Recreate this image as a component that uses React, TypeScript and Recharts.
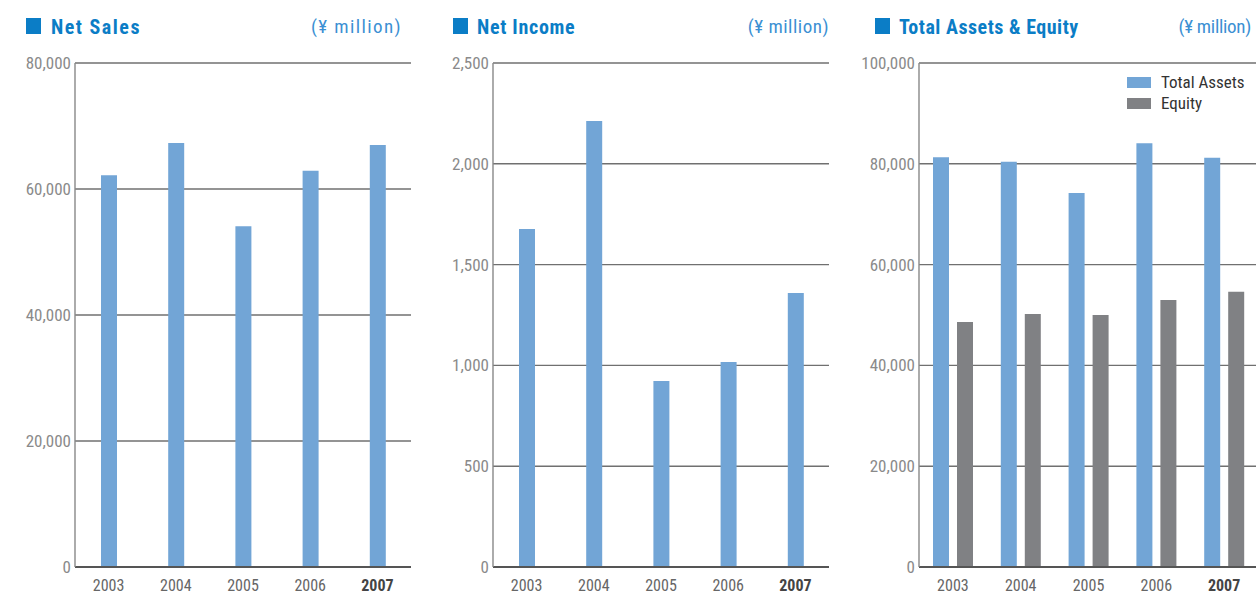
import React from "react";
import {
  BarChart,
  Bar,
  XAxis,
  YAxis,
  CartesianGrid,
} from "recharts";

const years = ["2003", "2004", "2005", "2006", "2007"];
const netSales = [62200, 67300, 54100, 62900, 67000];
const netIncome = [1677, 2212, 923, 1017, 1359];
const totalAssets = [81300, 80400, 74200, 84100, 81200];
const equity = [48600, 50200, 50000, 53000, 54600];

const salesTicks = [0, 20000, 40000, 60000, 80000];
const incomeTicks = [0, 500, 1000, 1500, 2000, 2500];
const assetTicks = [0, 20000, 40000, 60000, 80000, 100000];

const salesData = years.map((year, i) => ({ year, sales: netSales[i] }));
const incomeData = years.map((year, i) => ({ year, income: netIncome[i] }));
const assetData = years.map((year, i) => ({
  year,
  assets: totalAssets[i],
  equity: equity[i],
}));

const BLUE = "#72a5d6";
const GRAY = "#808184";
const TITLE_BLUE = "#0b7dc6";
const UNIT_BLUE = "#3b90d3";
const FONT = "'Roboto Condensed', 'Liberation Sans Narrow', Roboto, sans-serif";

const fmt = (v: number) => v.toLocaleString("en-US");

function YearTick(props: any) {
  const { x, y, payload } = props;
  const last = payload.value === "2007";
  return (
    <text
      x={x}
      y={y + 16}
      textAnchor="middle"
      fontFamily={FONT}
      fontSize={16}
      fontWeight={last ? 700 : 400}
      fill={last ? "#444" : "#666"}
    >
      {payload.value}
    </text>
  );
}

function Header({ title, left, markX, titleX, unitRight, titleSpacing, unitSpacing }: any) {
  return (
    <>
      <div
        style={{
          position: "absolute",
          left: markX - left,
          top: 18,
          width: 15,
          height: 16,
          background: TITLE_BLUE,
        }}
      />
      <div
        style={{
          position: "absolute",
          left: titleX - left,
          top: 15,
          fontFamily: FONT,
          fontWeight: 700,
          fontSize: 20,
          letterSpacing: titleSpacing,
          color: TITLE_BLUE,
          whiteSpace: "nowrap",
        }}
      >
        {title}
      </div>
      <div
        style={{
          position: "absolute",
          left: 0,
          width: unitRight - left,
          top: 15,
          textAlign: "right",
          fontFamily: FONT,
          fontSize: 19,
          letterSpacing: unitSpacing,
          color: UNIT_BLUE,
          whiteSpace: "nowrap",
        }}
      >
        (¥ million)
      </div>
    </>
  );
}

function Frame({ ticks, yWidth }: any) {
  return [
    <CartesianGrid
      key="g"
      yAxisId="l"
      horizontal
      vertical={false}
      stroke="#707070"
      strokeWidth={1.4}
    />,
    <XAxis
      key="x"
      dataKey="year"
      height={27}
      axisLine={{ stroke: "#555", strokeWidth: 2 }}
      tickLine={false}
      tick={<YearTick />}
      interval={0}
    />,
    <YAxis
      key="y"
      yAxisId="l"
      width={yWidth}
      domain={[0, ticks[ticks.length - 1]]}
      ticks={ticks}
      tickFormatter={fmt}
      axisLine={{ stroke: "#888", strokeWidth: 1.4 }}
      tickLine={false}
      tickSize={0}
      tickMargin={4}
      tick={{ fill: "#8a8a8a", fontSize: 17, fontFamily: FONT }}
    />,
    <YAxis
      key="r"
      yAxisId="r"
      orientation="right"
      width={0}
      domain={[0, ticks[ticks.length - 1]]}
      ticks={ticks}
      tick={false}
      tickLine={false}
      axisLine={{ stroke: "#888", strokeWidth: 1.4 }}
    />,
  ];
}

export default function App() {
  return (
    <div
      style={{
        position: "fixed",
        left: 0,
        top: 0,
        width: 1256,
        height: 594,
        overflow: "hidden",
        background: "#fff",
      }}
    >
      <div style={{ position: "absolute", left: 0, top: 0, width: 420, height: 594 }}>
        <Header
          title="Net Sales"
          left={0}
          markX={26}
          titleX={51}
          unitRight={402}
          titleSpacing={1.5}
          unitSpacing={1.4}
        />
        <BarChart
          width={420}
          height={594}
          data={salesData}
          margin={{ top: 63, right: 9, left: 0, bottom: 0 }}
        >
          {Frame({ ticks: salesTicks, yWidth: 75 })}
          <Bar yAxisId="l" dataKey="sales" fill={BLUE} barSize={16} isAnimationActive={false} />
        </BarChart>
      </div>

      <div style={{ position: "absolute", left: 420, top: 0, width: 420, height: 594 }}>
        <Header
          title="Net Income"
          left={420}
          markX={453}
          titleX={477}
          unitRight={829}
          titleSpacing={0.7}
          unitSpacing={0.5}
        />
        <BarChart
          width={420}
          height={594}
          data={incomeData}
          margin={{ top: 63, right: 11, left: 0, bottom: 0 }}
        >
          {Frame({ ticks: incomeTicks, yWidth: 73 })}
          <Bar yAxisId="l" dataKey="income" fill={BLUE} barSize={16} isAnimationActive={false} />
        </BarChart>
      </div>

      <div style={{ position: "absolute", left: 840, top: 0, width: 420, height: 594 }}>
        <Header
          title="Total Assets & Equity"
          left={840}
          markX={875}
          titleX={899}
          unitRight={1251}
          titleSpacing={0.5}
          unitSpacing={-0.3}
        />
        <BarChart
          width={419}
          height={594}
          data={assetData}
          margin={{ top: 63, right: 1, left: 0, bottom: 0 }}
          barGap={8}
        >
          {Frame({ ticks: assetTicks, yWidth: 79 })}
          <Bar yAxisId="l" dataKey="assets" name="Total Assets" fill={BLUE} barSize={16} isAnimationActive={false} />
          <Bar yAxisId="l" dataKey="equity" name="Equity" fill={GRAY} barSize={16} isAnimationActive={false} />
        </BarChart>
        <div
          style={{
            position: "absolute",
            left: 287,
            top: 72,
            fontFamily: FONT,
            fontSize: 17,
            color: "#333",
            lineHeight: "21px",
          }}
        >
          <div style={{ display: "flex", alignItems: "center" }}>
            <span style={{ width: 24, height: 11, background: BLUE, marginRight: 10 }} />
            Total Assets
          </div>
          <div style={{ display: "flex", alignItems: "center" }}>
            <span style={{ width: 24, height: 11, background: GRAY, marginRight: 10 }} />
            Equity
          </div>
        </div>
      </div>
    </div>
  );
}
